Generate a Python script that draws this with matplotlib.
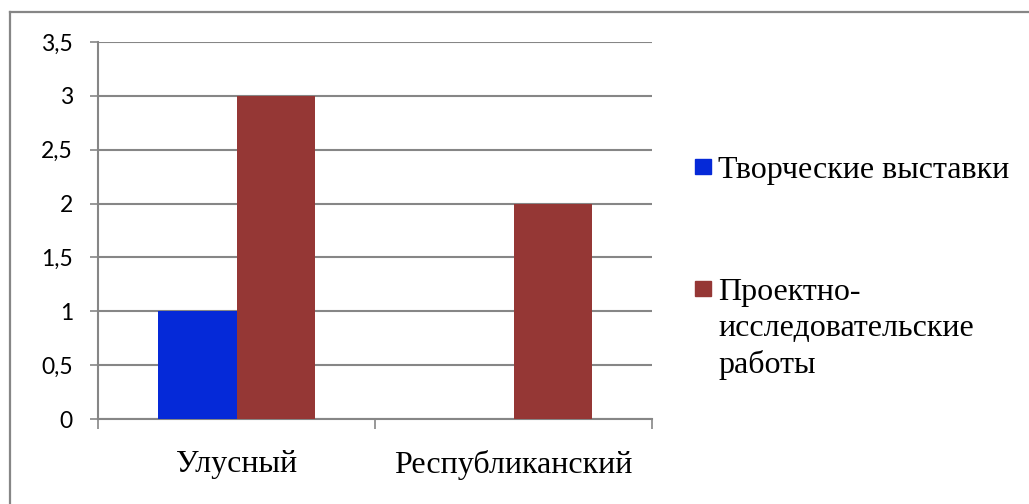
import matplotlib
matplotlib.use("Agg")
import matplotlib.pyplot as plt
from matplotlib.patches import Rectangle
from matplotlib.lines import Line2D
import numpy as np

# data
categories = ["Улусный", "Республиканский"]
series_names = [["Творческие выставки"],
                ["Проектно-", "исследовательские", "работы"]]
vystavki = [1, 0]
proekty = [3, 2]
yticks = [0, 0.5, 1, 1.5, 2, 2.5, 3, 3.5]
ytick_labels = ["0", "0,5", "1", "1,5", "2", "2,5", "3", "3,5"]

colors = ["#0529d8", "#953735"]
grid_c = "#868686"
serif = ["Liberation Serif", "DejaVu Serif"]
sans = ["Lato", "DejaVu Sans"]

fig = plt.figure(figsize=(10.29, 5.04), dpi=100)
ax = fig.add_axes([98/1029, 85/504, (652-98)/1029, (419-42)/504])

x = np.arange(len(categories))
w = 0.285
ax.bar(x - w/2, vystavki, w, color=colors[0], zorder=3)
ax.bar(x + w/2, proekty, w, color=colors[1], zorder=3)

ax.set_xlim(-0.5, 1.5)
ax.set_ylim(0, 3.5)
ax.set_yticks(yticks)
ax.set_yticklabels(ytick_labels, family=sans, fontsize=16.5)
ax.yaxis.grid(True, color=grid_c, linewidth=1.5, zorder=0)
ax.tick_params(axis="y", length=6, width=1.2, color=grid_c, pad=12)

# category labels between boundary ticks
ax.set_xticks(x)
ax.set_xticklabels(categories, family=serif, fontsize=23)
ax.tick_params(axis="x", which="major", length=0, pad=22)
ax.set_xticks([-0.5, 0.5, 1.5], minor=True)
ax.tick_params(axis="x", which="minor", length=7, width=1.2, color=grid_c)

for s in ["top", "right"]:
    ax.spines[s].set_visible(False)
for s in ["left", "bottom"]:
    ax.spines[s].set_color(grid_c)
    ax.spines[s].set_linewidth(1.5)

# legend (drawn by hand to keep Word-style layout)
leg_base = [178, 300]
line_step = 36.5
for lines, c, yb in zip(series_names, colors, leg_base):
    fig.patches.append(Rectangle((695/1029, 1 - (yb - 4)/504), 16/1029, 15/504,
                                 transform=fig.transFigure, color=c))
    for i, ln in enumerate(lines):
        fig.text(718/1029, 1 - (yb + i*line_step)/504, ln, family=serif,
                 fontsize=23, va="baseline", ha="left")

# outer frame
fig.add_artist(Line2D([10/1029, 1.0], [1 - 12/504, 1 - 12/504],
                      transform=fig.transFigure, color=grid_c, linewidth=1.6))
fig.add_artist(Line2D([10/1029, 10/1029], [0, 1 - 12/504],
                      transform=fig.transFigure, color=grid_c, linewidth=1.6))

fig.savefig("out.png", dpi=100)
